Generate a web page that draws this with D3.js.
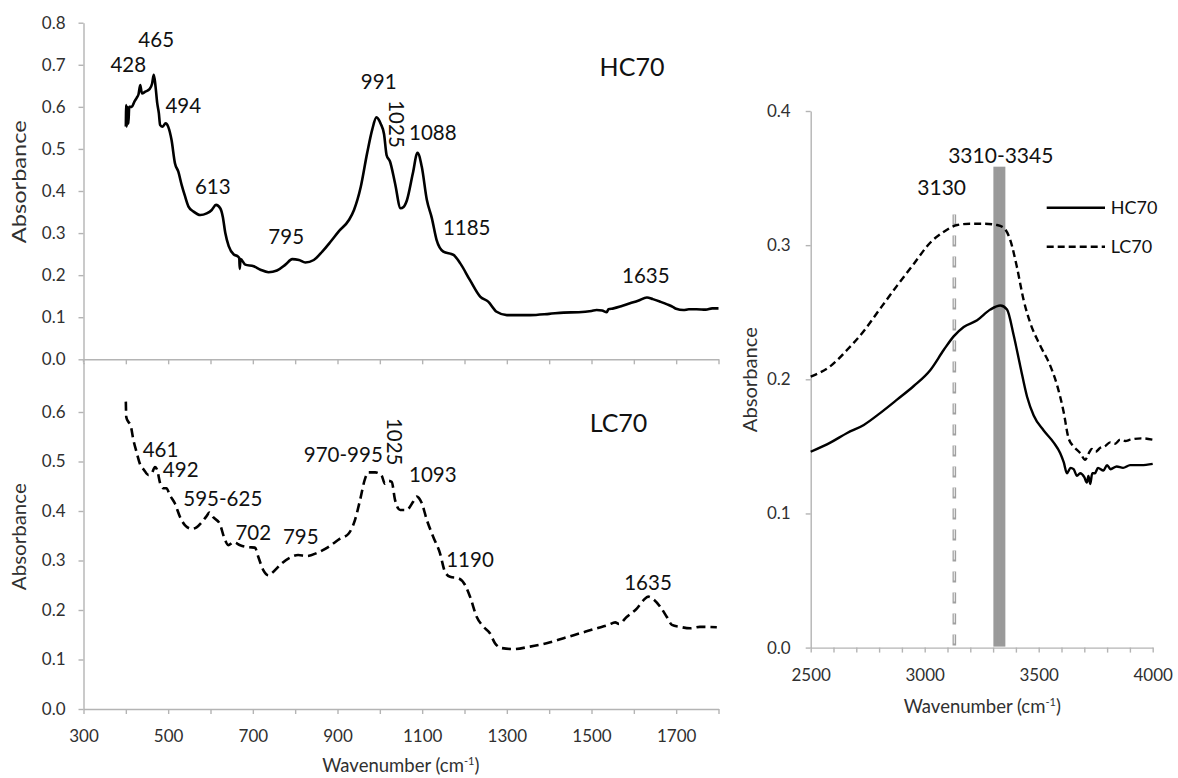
<!DOCTYPE html>
<html><head><meta charset="utf-8">
<script src="https://cdn.jsdelivr.net/npm/d3@7"></script>
<style>
body{margin:0;background:#fff}
svg{display:block;font-family:Lato,Calibri,"Noto Sans",sans-serif}
</style></head><body>
<svg id="c" width="1178" height="778"></svg>
<script>
// ---------------- DATA ----------------
// HC70, 400-1800 cm-1 (top left panel)
const hcWave=[400,401,402,404,406,408,414,420,426,430,434,438,446,456,462,466,470,474,478,481,487,494,500,508,516,524,532,540,548,560,576,591,603,613,623,629,635,643,655,664,668,669,671,682,702,718,737,757,777,793,809,824,844,864,884,903,927,939,955,970,982,992,1002,1010,1016,1024,1036,1049,1056,1064,1078,1089,1099,1111,1123,1134,1150,1174,1190,1213,1237,1256,1276,1300,1355,1400,1434,1470,1500,1512,1525,1536,1540,1552,1570,1591,1610,1631,1645,1662,1680,1693,1700,1717,1730,1748,1770,1785,1800];
const hcAbs=[0.553,0.604,0.553,0.600,0.560,0.600,0.600,0.612,0.622,0.630,0.652,0.632,0.636,0.642,0.655,0.676,0.650,0.610,0.585,0.557,0.553,0.561,0.553,0.521,0.466,0.446,0.414,0.387,0.363,0.351,0.343,0.347,0.355,0.367,0.359,0.339,0.300,0.269,0.249,0.245,0.240,0.215,0.238,0.225,0.221,0.213,0.207,0.211,0.225,0.238,0.236,0.230,0.236,0.256,0.280,0.304,0.331,0.355,0.410,0.490,0.546,0.575,0.560,0.535,0.485,0.470,0.418,0.359,0.362,0.378,0.442,0.491,0.458,0.379,0.335,0.284,0.256,0.248,0.228,0.188,0.149,0.137,0.113,0.105,0.105,0.108,0.111,0.112,0.115,0.117,0.116,0.112,0.119,0.121,0.126,0.133,0.139,0.147,0.143,0.137,0.130,0.124,0.120,0.117,0.119,0.119,0.118,0.121,0.121];
// LC70, 400-1800 cm-1 (bottom left panel)
const lcWave=[400,401,406,411,418,426,433,443,453,461,469,474,481,488,496,504,516,528,540,556,567,579,591,597,607,622,632,642,654,670,689,705,713,725,737,748,768,788,807,827,851,878,906,926,941,953,965,973,989,1004,1012,1020,1028,1036,1048,1063,1079,1087,1099,1111,1126,1142,1154,1166,1186,1201,1213,1229,1245,1260,1272,1288,1315,1355,1394,1434,1473,1512,1540,1556,1565,1583,1607,1623,1634,1646,1662,1678,1690,1709,1733,1756,1796];
const lcAbs=[0.621,0.590,0.580,0.574,0.543,0.517,0.496,0.483,0.473,0.476,0.489,0.483,0.456,0.446,0.446,0.432,0.415,0.388,0.371,0.364,0.367,0.377,0.390,0.397,0.387,0.374,0.347,0.331,0.337,0.331,0.327,0.326,0.307,0.280,0.270,0.277,0.294,0.306,0.311,0.309,0.315,0.327,0.344,0.354,0.381,0.421,0.465,0.478,0.478,0.472,0.455,0.461,0.459,0.422,0.402,0.402,0.419,0.429,0.416,0.382,0.348,0.315,0.277,0.267,0.264,0.251,0.227,0.186,0.166,0.153,0.133,0.123,0.121,0.126,0.133,0.143,0.153,0.163,0.170,0.175,0.172,0.186,0.203,0.220,0.227,0.222,0.207,0.186,0.170,0.166,0.163,0.166,0.165];
// 2500-4000 cm-1 (right panel)
const hiWave=[2500,2588,2660,2733,2806,2880,2952,3025,3084,3127,3171,3230,3288,3332,3361,3390,3419,3449,3478,3521,3565,3594,3610,3624,3640,3653,3668,3682,3700,3711,3718,3726,3735,3747,3760,3784,3800,3815,3842,3870,3901,3950,4000];
const hcHiAbs=[0.146,0.153,0.160,0.166,0.175,0.185,0.195,0.207,0.222,0.232,0.239,0.244,0.252,0.255,0.252,0.233,0.210,0.187,0.173,0.162,0.153,0.145,0.138,0.130,0.134,0.133,0.128,0.130,0.127,0.123,0.128,0.122,0.130,0.130,0.134,0.132,0.136,0.133,0.135,0.134,0.136,0.136,0.137];
const lcHiWave=[2500,2588,2660,2733,2806,2880,2952,3025,3084,3142,3200,3258,3317,3346,3375,3404,3434,3463,3507,3551,3580,3609,3631,3653,3682,3704,3720,3733,3750,3770,3790,3813,3835,3857,3880,3901,3950,4000];
const lcHiAbs=[0.202,0.210,0.222,0.236,0.253,0.270,0.286,0.302,0.310,0.315,0.316,0.316,0.315,0.313,0.304,0.284,0.259,0.242,0.225,0.210,0.196,0.176,0.156,0.150,0.145,0.140,0.145,0.148,0.146,0.149,0.150,0.153,0.152,0.155,0.154,0.155,0.156,0.155];
// marked bands (right panel)
const bandRange=[3310,3345], bandTop=0.357;
const refLine=3130, refLineTop=0.325;
// tick values
const leftXTicks=d3.range(300,1801,100);
const leftXLabels=[300,500,700,900,1100,1300,1500,1700];
const topYTicks=[0,0.1,0.2,0.3,0.4,0.5,0.6,0.7,0.8];
const botYTicks=[0,0.1,0.2,0.3,0.4,0.5,0.6];
const rightXTicks=d3.range(2500,4001,100);
const rightXLabels=[2500,3000,3500,4000];
const rightYTicks=[0,0.1,0.2,0.3,0.4];
// annotation texts
const hcPeaks=["428","465","494","613","795","991","1025","1088","1185","1635"];
const lcPeaks=["461","492","595-625","702","795","970-995","1025","1093","1190","1635"];
const seriesNames=["HC70","LC70"];

// ---------------- LAYOUT ----------------
const AX="#b4b4b4", TXT="#303030", INK="#111";
const svg=d3.select("#c");
const xL=d3.scaleLinear().domain([300,1800]).range([83.5,718.5]);
const yTop=d3.scaleLinear().domain([0,0.8]).range([359.3,22.7]);
const yBot=d3.scaleLinear().domain([0,0.7]).range([709,362.5]);
const xR=d3.scaleLinear().domain([2500,4000]).range([810.7,1152.7]);
const yR=d3.scaleLinear().domain([0,0.4]).range([647.6,111]);
const f1=d3.format(".1f");

function styleAxis(g,fs){
  g.select(".domain").attr("stroke",AX).attr("stroke-width",1.4);
  g.selectAll(".tick line").attr("stroke",AX).attr("stroke-width",1.4);
  g.selectAll(".tick text").attr("fill",TXT).style("font-size",fs+"px").style("font-family","Lato,Calibri,sans-serif");
}
// top-left axes
svg.append("g").attr("transform",`translate(${xL(300)},0)`)
  .call(d3.axisLeft(yTop).tickValues(topYTicks).tickFormat(f1).tickSize(5).tickSizeOuter(0).tickPadding(13))
  .call(g=>styleAxis(g,17));
svg.append("g").attr("transform",`translate(0,${yTop(0)})`)
  .call(d3.axisBottom(xL).tickValues(leftXTicks).tickFormat("").tickSize(5).tickSizeOuter(0))
  .call(g=>styleAxis(g,17));
// bottom-left axes
svg.append("g").attr("transform",`translate(${xL(300)},0)`)
  .call(d3.axisLeft(yBot).tickValues(botYTicks).tickFormat(f1).tickSize(5).tickSizeOuter(0).tickPadding(13))
  .call(g=>styleAxis(g,17));
svg.append("line").attr("x1",xL(300)).attr("x2",xL(300)).attr("y1",yTop(0)).attr("y2",yBot(0.7))
  .attr("stroke",AX).attr("stroke-width",1.4);
svg.append("g").attr("transform",`translate(0,${yBot(0)})`)
  .call(d3.axisBottom(xL).tickValues(leftXTicks).tickFormat(d=>leftXLabels.includes(d)?d:"").tickSize(5).tickSizeOuter(0).tickPadding(16))
  .call(g=>styleAxis(g,17));
// right axes
svg.append("g").attr("transform",`translate(${xR(2500)},0)`)
  .call(d3.axisLeft(yR).tickValues(rightYTicks).tickFormat(f1).tickSize(5).tickSizeOuter(0).tickPadding(15))
  .call(g=>styleAxis(g,17));
svg.append("g").attr("transform",`translate(0,${yR(0)})`)
  .call(d3.axisBottom(xR).tickValues(rightXTicks).tickFormat(d=>rightXLabels.includes(d)?d:"").tickSize(5).tickSizeOuter(0).tickPadding(16))
  .call(g=>styleAxis(g,17));

// axis titles
function yTitle(cx,cy,len){
  svg.append("text").attr("transform",`translate(${cx},${cy}) rotate(-90)`)
    .attr("text-anchor","middle").attr("dominant-baseline","central")
    .attr("textLength",len).attr("lengthAdjust","spacingAndGlyphs")
    .attr("fill",TXT).style("font-size","18.5px").text("Absorbance");
}
yTitle(18.5,181.7,123); yTitle(18.5,536.7,107); yTitle(749.5,379.7,105);
function xTitle(cx,by){
  const t=svg.append("text").attr("x",cx).attr("y",by).attr("text-anchor","middle")
    .attr("fill",TXT).style("font-size","18.5px");
  t.append("tspan").text("Wavenumber (cm");
  t.append("tspan").attr("dy",-7).style("font-size","11px").text("-1");
  t.append("tspan").attr("dy",7).text(")");
}
xTitle(400.8,771.5); xTitle(982.3,713.3);

// right panel markers
svg.append("rect").attr("x",xR(bandRange[0])).attr("width",xR(bandRange[1])-xR(bandRange[0]))
  .attr("y",yR(bandTop)).attr("height",yR(0)-yR(bandTop)-3)
  .attr("fill","#9a9a9a").attr("stroke","#9a9a9a").attr("stroke-width",4);
svg.append("line").attr("x1",xR(refLine)).attr("x2",xR(refLine)).attr("y1",yR(0)-2).attr("y2",yR(refLineTop))
  .attr("stroke","#a0a0a0").attr("stroke-width",3.6).attr("stroke-dasharray","11,10");
svg.append("line").attr("x1",xR(refLine)).attr("x2",xR(refLine)).attr("y1",yR(0)-3).attr("y2",yR(refLineTop)-1)
  .attr("stroke","#e6e6e6").attr("stroke-width",1.2).attr("stroke-dasharray","9,12").attr("stroke-dashoffset",-1);

// curves
function curve(xs,ys,xS,yS,dash,w){
  const pts=xs.map((x,i)=>[x,ys[i]]);
  svg.append("path").datum(pts)
    .attr("d",d3.line().x(d=>xS(d[0])).y(d=>yS(d[1])).curve(d3.curveMonotoneX))
    .attr("fill","none").attr("stroke","#000").attr("stroke-width",w)
    .attr("stroke-linejoin","round")
    .attr("stroke-dasharray",dash||null);
}
curve(hcWave,hcAbs,xL,yTop,null,2.6);
curve(lcWave,lcAbs,xL,yBot,"9,5",2.6);
curve(hiWave,hcHiAbs,xR,yR,null,2.4);
curve(lcHiWave,lcHiAbs,xR,yR,"7,4",2.4);

// annotations
function ann(txt,x,y,fs,rot){
  const t=svg.append("text").attr("fill",INK).style("font-size",fs+"px").attr("text-anchor","middle").text(txt);
  if(rot){t.attr("transform",`translate(${x},${y}) rotate(90)`).attr("dominant-baseline","central");}
  else t.attr("x",x).attr("y",y);
}
const hcPos=[[128.3,71.7],[156.2,47.3],[183.3,113.3],[212.8,194],[286.2,244],[378.7,89.3],[397,124,1],[432.8,140],[466.7,235],[645.8,283.3]];
hcPeaks.forEach((t,i)=>ann(t,hcPos[i][0],hcPos[i][1],20.5,hcPos[i][2]));
const lcPos=[[160.5,456.7],[180.7,477.3],[222.8,506],[253.3,540],[300.8,544.3],[343.3,461.7],[395.3,441.7,1],[432.8,481.7],[470,566.7],[648,590]];
lcPeaks.forEach((t,i)=>ann(t,lcPos[i][0],lcPos[i][1],20.5,lcPos[i][2]));
ann(seriesNames[0],632,75.7,25);
ann(seriesNames[1],618.5,431.7,25);
ann("3310-3345",1000.8,163.3,21);
ann("3130",941.7,195,21);

// legend
[[0,null],[1,"7,4"]].forEach(([i,dash])=>{
  const ly=207.7+i*39;
  svg.append("line").attr("x1",1046.7).attr("x2",1105).attr("y1",ly).attr("y2",ly)
    .attr("stroke","#000").attr("stroke-width",2.4).attr("stroke-dasharray",dash);
  svg.append("text").attr("x",1110.7).attr("y",ly+6.3).attr("fill",INK).style("font-size","18px").text(seriesNames[i]);
});
</script>
</body></html>
